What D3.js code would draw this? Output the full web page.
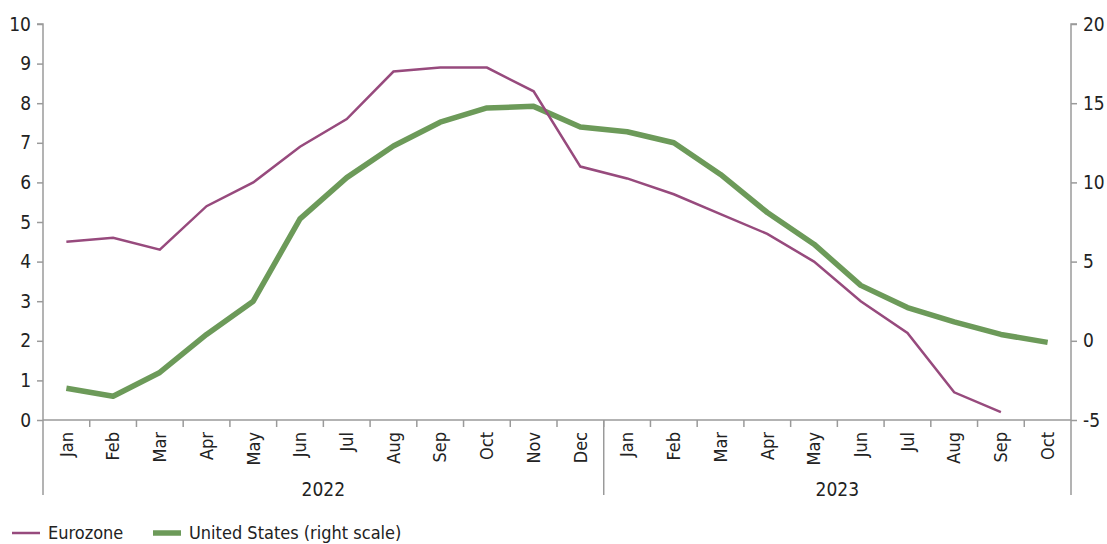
<!DOCTYPE html>
<html><head><meta charset="utf-8">
<script src="https://cdn.jsdelivr.net/npm/d3@7"></script>
<style>
body{margin:0;background:#fff;}
svg text{font-family:"Liberation Sans Narrow","DejaVu Sans Condensed",sans-serif;fill:#222;}
</style></head>
<body><svg id="c" width="1107" height="544"></svg>
<script>
const months = ["Jan","Feb","Mar","Apr","May","Jun","Jul","Aug","Sep","Oct","Nov","Dec","Jan","Feb","Mar","Apr","May","Jun","Jul","Aug","Sep","Oct"];
const years = ["2022","2023"];
const yearCounts = [12,10];
const eurozone = [4.5,4.6,4.3,5.4,6.0,6.9,7.6,8.8,8.9,8.9,8.3,6.4,6.1,5.7,5.2,4.7,4.0,3.0,2.2,0.7,0.2,null];
const unitedStates = [-3.0,-3.5,-2.0,0.4,2.5,7.7,10.3,12.3,13.8,14.7,14.8,13.5,13.2,12.5,10.5,8.1,6.1,3.5,2.1,1.2,0.4,-0.1];
const leftTicks = [0,1,2,3,4,5,6,7,8,9,10];
const rightTicks = [-5,0,5,10,15,20];
const seriesNames = ["Eurozone","United States (right scale)"];

const svg = d3.select("#c");
const L=43, R=1071, T=24, B=420;
const idx = months.map((m,i)=>i);
const x = d3.scaleBand().domain(idx).range([L,R]);
const yL = d3.scaleLinear().domain([0,10]).range([B,T]);
const yR = d3.scaleLinear().domain([-5,20]).range([B,T]);
const axisColor="#9a9a9a";

const gl = svg.append("g").attr("transform",`translate(${L},0)`)
  .call(d3.axisLeft(yL).tickValues(leftTicks).tickSize(6).tickPadding(6).tickFormat(d3.format("d")));
const gr = svg.append("g").attr("transform",`translate(${R},0)`)
  .call(d3.axisRight(yR).tickValues(rightTicks).tickSize(6).tickPadding(6).tickFormat(d=>d<0?"-"+Math.abs(d):d));
[gl,gr].forEach(g=>{
  g.selectAll("path,line").attr("stroke",axisColor).attr("stroke-width",1.5);
  g.selectAll("text").style("font-size","19px").attr("fill","#222");
});
gl.select(".domain").attr("d",`M-6,${T}H0V${B}`);
gr.select(".domain").attr("d",`M6,${T}H0V${B}`);

svg.append("line").attr("x1",L).attr("x2",R).attr("y1",B).attr("y2",B).attr("stroke",axisColor).attr("stroke-width",1.5);
const bw = x.bandwidth();
svg.append("g").selectAll("line").data(idx.slice(1)).join("line")
  .attr("x1",d=>x(d)).attr("x2",d=>x(d)).attr("y1",B).attr("y2",B+7)
  .attr("stroke",axisColor).attr("stroke-width",1.5);
let acc=0; const seps=[0];
yearCounts.forEach(c=>{acc+=c; seps.push(acc);});
svg.append("g").selectAll("line").data(seps).join("line")
  .attr("x1",d=>d<months.length?x(d):R).attr("x2",d=>d<months.length?x(d):R)
  .attr("y1",B).attr("y2",B+75).attr("stroke",axisColor).attr("stroke-width",1.5);
svg.append("g").selectAll("text").data(idx).join("text")
  .attr("transform",d=>`translate(${x(d)+bw/2},${B+12}) rotate(-90)`)
  .attr("text-anchor","end").attr("dy","0.35em").style("font-size","18px")
  .text(d=>months[d]);
svg.append("g").selectAll("text").data(years).join("text")
  .attr("x",(d,i)=>{const a=seps[i], b=seps[i+1]; const xa=x(a), xb=b<months.length?x(b):R; return (xa+xb)/2;})
  .attr("y",B+76).attr("text-anchor","middle").style("font-size","19px").text(d=>d);

const lineL = d3.line().defined(d=>d!=null).x((d,i)=>x(i)+bw/2).y(d=>yL(d));
const lineR = d3.line().defined(d=>d!=null).x((d,i)=>x(i)+bw/2).y(d=>yR(d));
const purple="#974a7d", green="#6c9a59";
svg.append("path").attr("d",lineR(unitedStates)).attr("fill","none").attr("stroke",green).attr("stroke-width",5.5).attr("stroke-linejoin","round");
svg.append("path").attr("d",lineL(eurozone)).attr("fill","none").attr("stroke",purple).attr("stroke-width",2.5).attr("stroke-linejoin","miter");

const leg = svg.append("g");
const items=[{n:seriesNames[0],c:purple,w:2.5,x:12},{n:seriesNames[1],c:green,w:5.5,x:153}];
items.forEach(it=>{
  leg.append("line").attr("x1",it.x).attr("x2",it.x+28).attr("y1",533).attr("y2",533).attr("stroke",it.c).attr("stroke-width",it.w);
  leg.append("text").attr("x",it.x+36).attr("y",533).attr("dy","0.35em").style("font-size","18px").text(it.n);
});
</script></body></html>
